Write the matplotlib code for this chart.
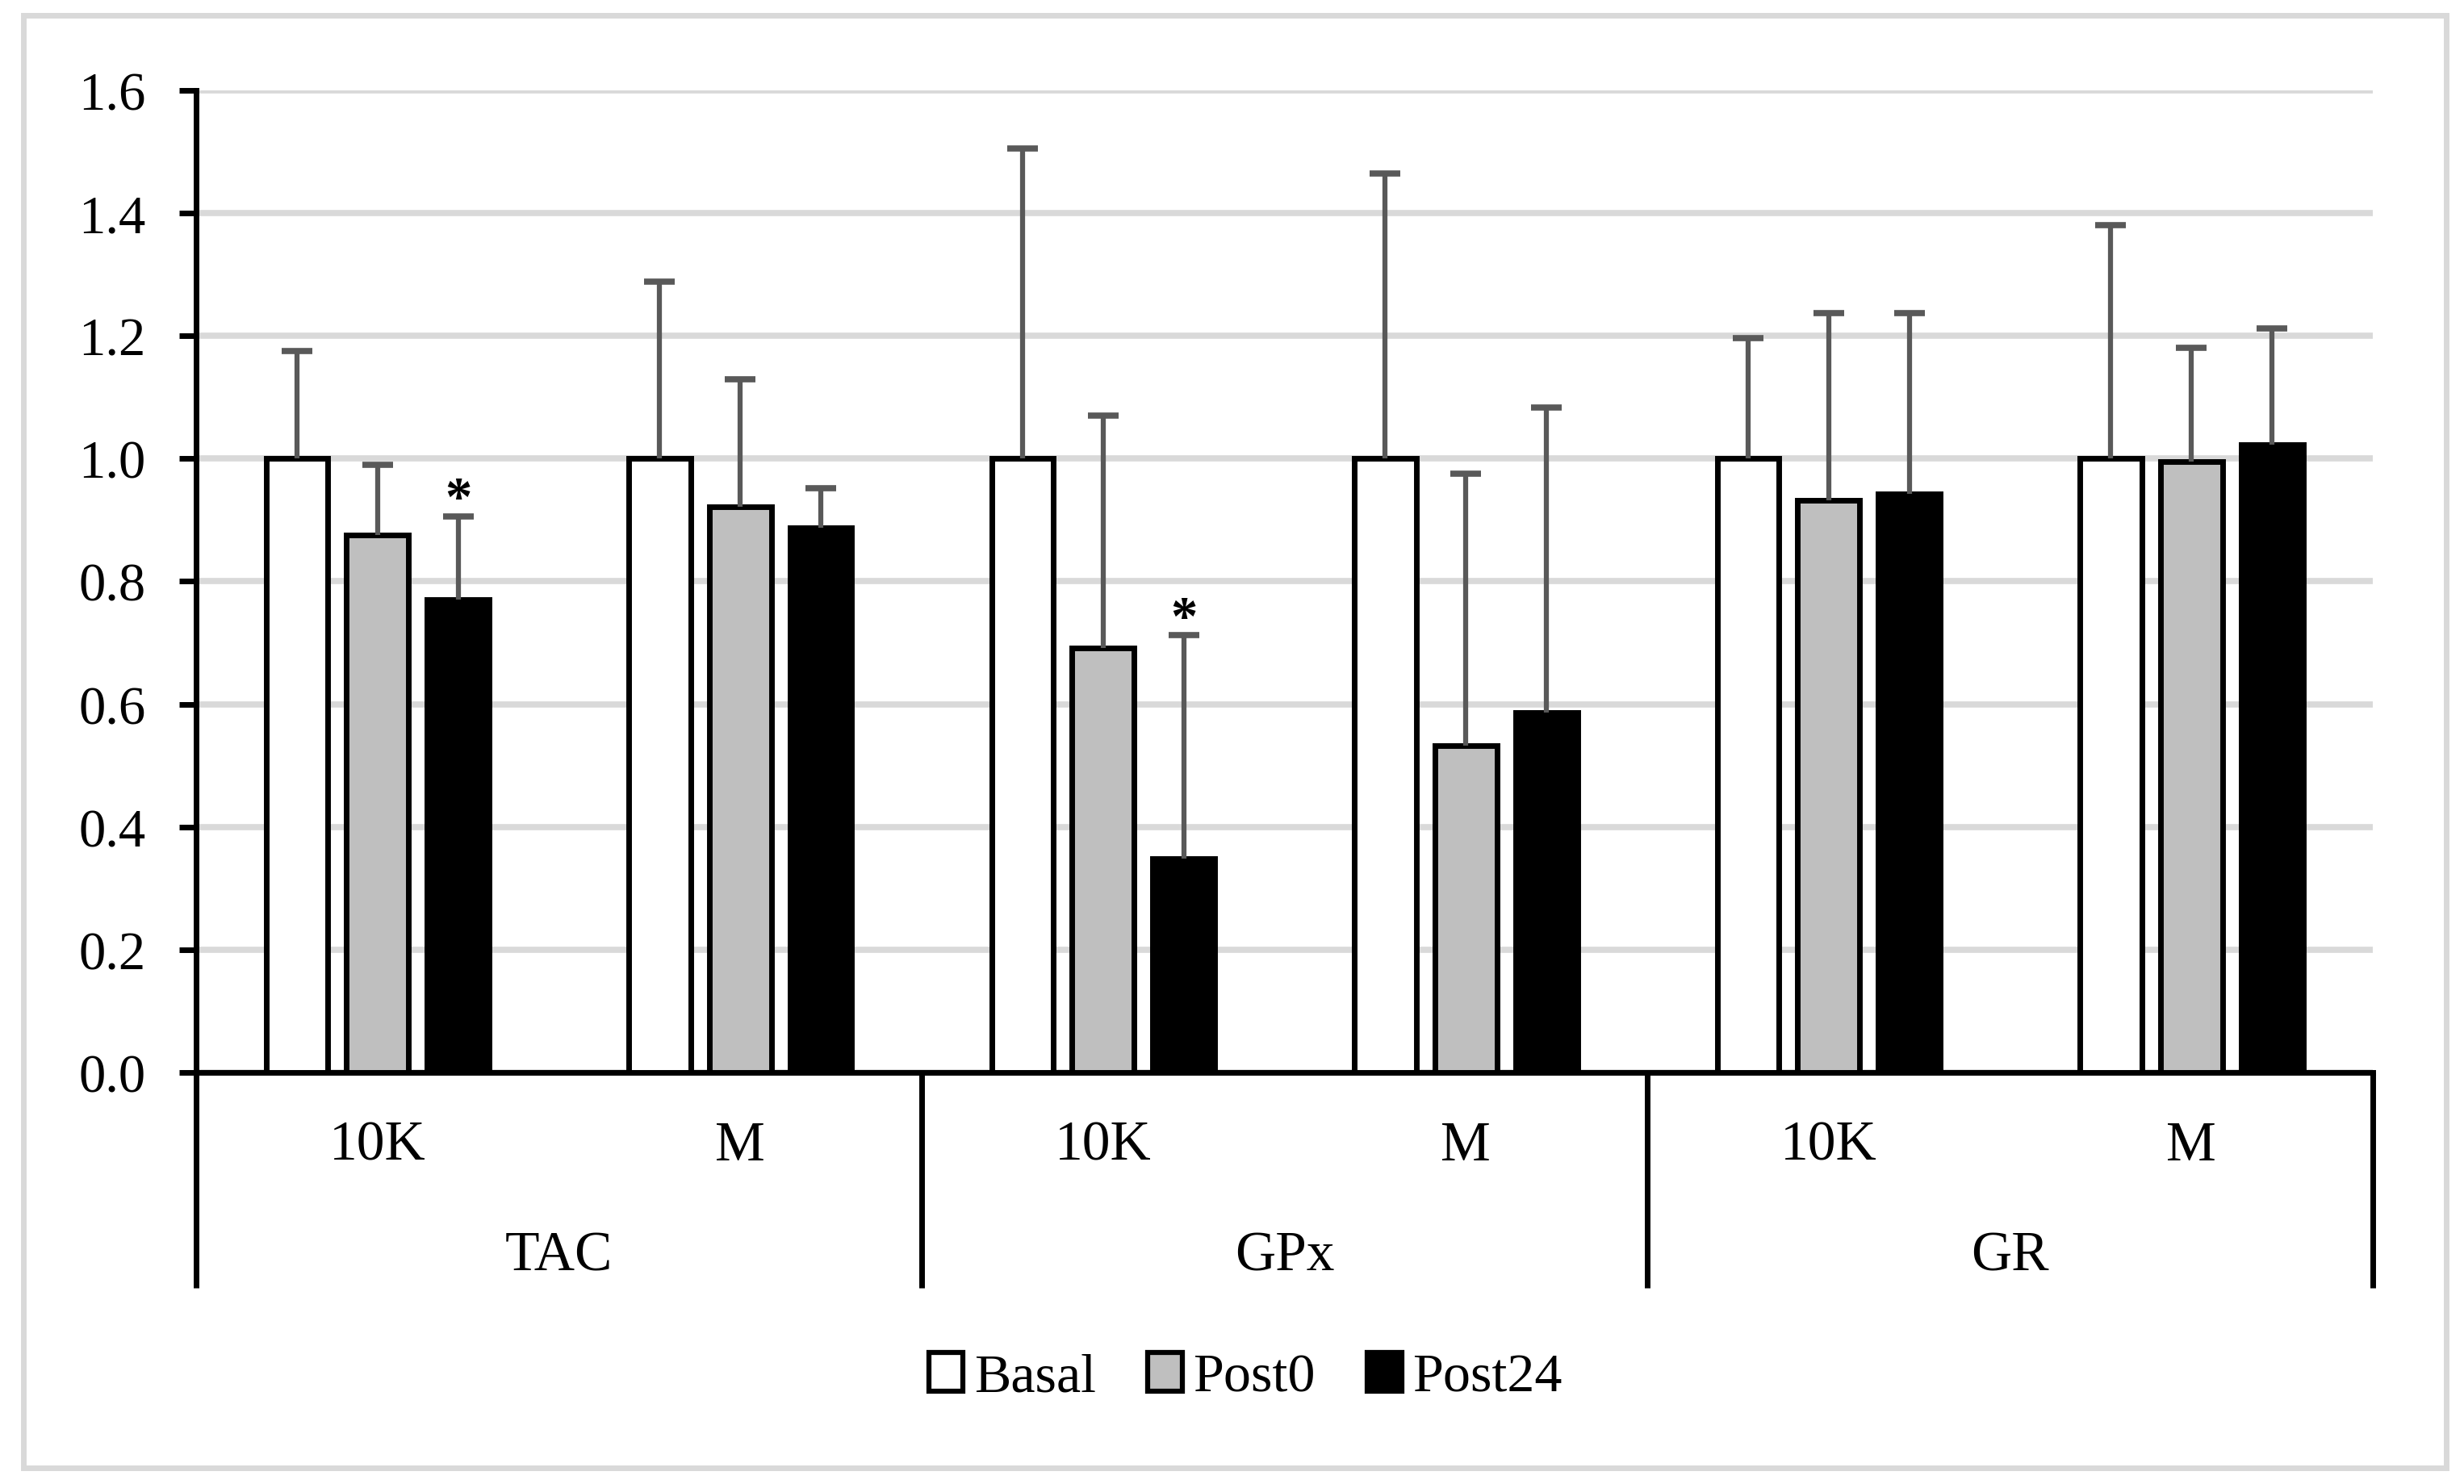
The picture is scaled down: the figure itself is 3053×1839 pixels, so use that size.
import numpy as np
import matplotlib
matplotlib.use("Agg")
import matplotlib.pyplot as plt
from matplotlib.patches import Rectangle, Patch
from matplotlib.transforms import blended_transform_factory

plt.rcParams['font.family'] = ['Liberation Serif', 'DejaVu Serif']

groups = ["TAC", "GPx", "GR"]
subs = ["10K", "M"]
series = ["Basal", "Post0", "Post24"]

basal = [1.0, 1.0, 1.0, 1.0, 1.0, 1.0]
post0 = [0.875, 0.922, 0.691, 0.533, 0.932, 0.995]
post24 = [0.770, 0.888, 0.348, 0.586, 0.942, 1.023]
basal_err = [0.175, 0.288, 0.505, 0.464, 0.196, 0.380]
post0_err = [0.115, 0.207, 0.379, 0.442, 0.305, 0.185]
post24_err = [0.136, 0.064, 0.364, 0.497, 0.295, 0.189]
post24_sig = [True, False, True, False, False, False]

colors = ["white", "#bfbfbf", "black"]

fig = plt.figure(figsize=(30.53, 18.40), dpi=100)
ax = fig.add_axes([0.0796, 0.2772, 0.963 - 0.0796, 0.9386 - 0.2772])

x = np.arange(6) + 0.5
offsets = [-0.222, 0.0, 0.222]
width = 0.171
vals = [basal, post0, post24]
errs = [basal_err, post0_err, post24_err]

for i in range(3):
    xi = x + offsets[i]
    ax.bar(xi, vals[i], width, color=colors[i], edgecolor="black",
           linewidth=5, zorder=3, label=series[i])
    eb = ax.errorbar(xi, vals[i], yerr=[np.zeros(6), errs[i]], fmt="none",
                     ecolor="#595959", elinewidth=4.5, capsize=14,
                     capthick=5.5, zorder=4)
    # only the upper cap is shown
    eb[1][0].set_visible(False)

# significance marks
for j in range(6):
    if post24_sig[j]:
        ax.text(x[j] + offsets[2], post24[j] + post24_err[j] + 0.005, "*",
                ha="center", va="baseline", fontsize=48, fontweight="bold")

ax.set_xlim(0, 6)
ax.set_ylim(0, 1.6)
ax.set_yticks(np.arange(0, 1.61, 0.2))
ax.set_yticklabels([f"{v:.1f}" for v in np.arange(0, 1.61, 0.2)])
ax.set_xticks([])
ax.tick_params(axis="y", length=15, width=5, pad=30, labelsize=48)
ax.yaxis.grid(True, color="#d9d9d9", linewidth=5.5)
ax.set_axisbelow(True)
for s in ["top", "right"]:
    ax.spines[s].set_visible(False)
ax.spines["left"].set_linewidth(5)
ax.spines["bottom"].set_linewidth(5)

# category axis: separators and labels
trans = blended_transform_factory(ax.transData, fig.transFigure)
sep_bottom = (0.132 - 0.2772) / (0.9386 - 0.2772)
for xb in [0, 2, 4, 6]:
    ax.plot([xb, xb], [0, sep_bottom], color="black", linewidth=5,
            transform=ax.get_xaxis_transform(), clip_on=False,
            solid_capstyle="butt")
for j in range(6):
    ax.text(x[j], 0.2277, subs[j % 2], transform=trans, ha="center",
            va="center", fontsize=50)
for g in range(3):
    ax.text(2 * g + 1, 0.1533, groups[g], transform=trans, ha="center",
            va="center", fontsize=50)

handles = [Patch(facecolor=c, edgecolor="black", linewidth=4.5) for c in colors]
fig.legend(handles, series, loc="center", bbox_to_anchor=(0.5055, 0.0717),
           ncol=3, frameon=False, fontsize=49, handlelength=0.62,
           handleheight=0.7, handletextpad=0.2, columnspacing=0.95)

# outer chart border
fig.patches.append(Rectangle((0.0095, 0.0109), 0.9833, 0.978,
                             transform=fig.transFigure, fill=False,
                             edgecolor="#d9d9d9", linewidth=5))

fig.savefig("out.png", dpi=100)
plt.close(fig)
